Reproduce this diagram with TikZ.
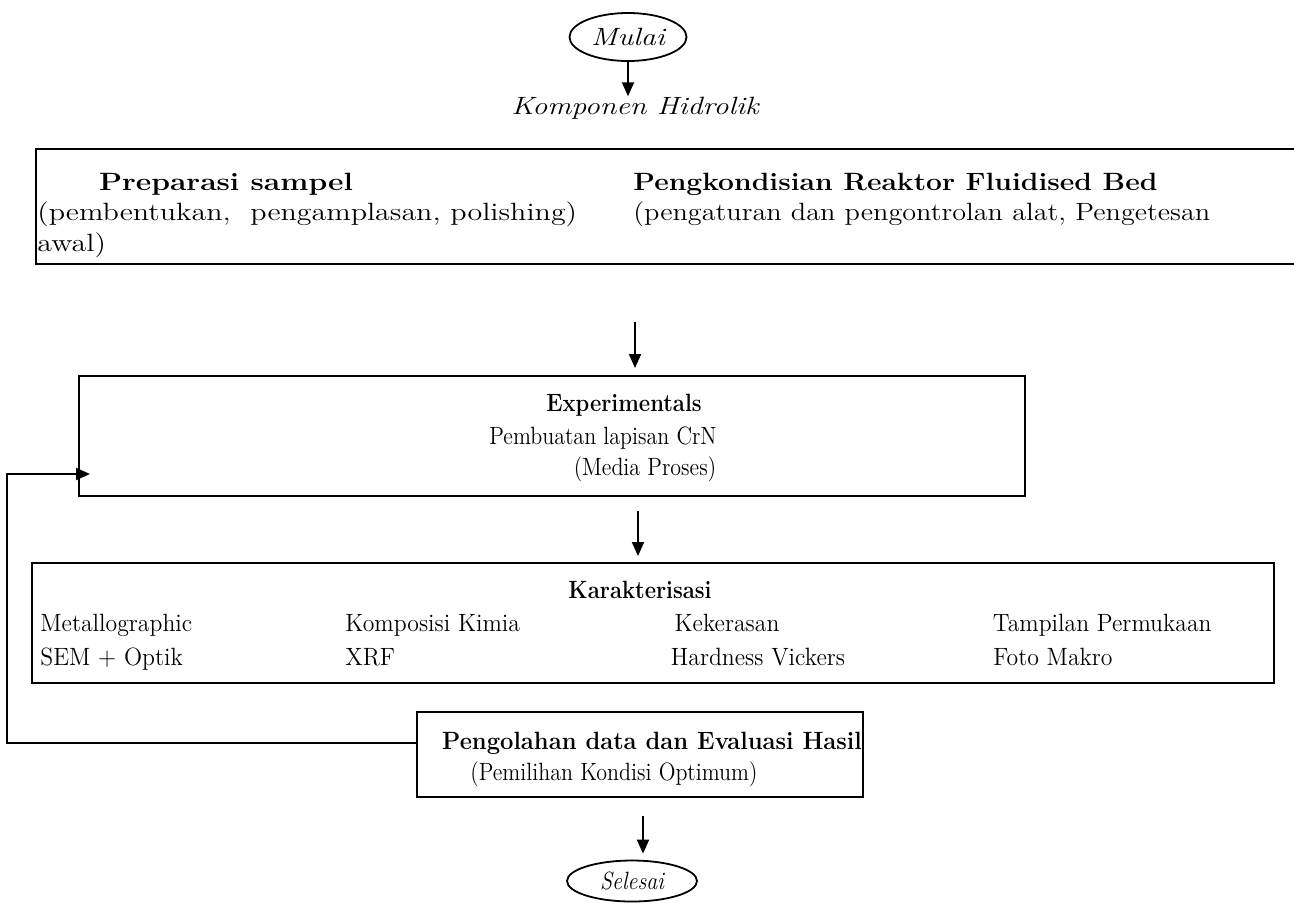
\documentclass[tikz,border=0pt]{standalone}
\usepackage{fontspec}
\setmainfont{Latin Modern Roman}[FakeStretch=1.2]
\newfontfamily\condfont{Latin Modern Roman}[FakeStretch=0.88]
\newfontfamily\rowfont{Latin Modern Roman}[FakeStretch=0.95]
\newfontfamily\semifont{Latin Modern Roman}[FakeStretch=0.95]
\newfontfamily\kondfont{Latin Modern Roman}[FakeStretch=1.13]
\usetikzlibrary{arrows.meta,shapes.geometric}
\begin{document}
\begin{tikzpicture}[x=0.5pt,y=-0.5pt,
  box/.style={draw, line width=1pt, inner sep=0pt},
  term/.style={draw, ellipse, line width=0.9pt, inner sep=0pt, font=\fontsize{12.5}{15}\selectfont\itshape},
  arr/.style={line width=1pt, -{Triangle[width=6pt,length=7pt]}},
  txt/.style={inner sep=0pt, font=\fontsize{12.5}{15}\selectfont},
  btxt/.style={txt, font=\fontsize{12.5}{15}\selectfont\bfseries},
  ctxt/.style={inner sep=0pt, font=\fontsize{12.5}{15}\condfont},
  cbtxt/.style={inner sep=0pt, font=\fontsize{12.5}{15}\condfont\bfseries},
  rtxt/.style={inner sep=0pt, font=\fontsize{12.5}{15}\rowfont}]
\useasboundingbox (0,0) rectangle (1294,907);
\clip (0,0) rectangle (1294,907);

% terminals
\node[term, minimum width=58.5pt, minimum height=24pt] (mulai) at (628,37) {Mulai};
\node[txt, anchor=base, font=\fontsize{12.5}{15}\selectfont\itshape] (komp) at (635,114) {Komponen Hidrolik};
\draw[arr] (mulai.south) -- (mulai.south |- komp.north);

% box 1
\node[box, line width=1.3pt, minimum width=637pt, minimum height=57.5pt] (prep) at (673,206.5) {};
\node[btxt, anchor=base] (prept) at (226,190) {Preparasi sampel};
\node[txt, anchor=base west] (prepd) at (37,220) {(pembentukan,\ \ pengamplasan, polishing)};
\node[txt, anchor=base west] (prepe) at (37,251) {awal)};
\node[btxt, anchor=base west, font=\fontsize{12.5}{15}\kondfont\bfseries] (kondt) at (633,190) {Pengkondisian Reaktor Fluidised Bed};
\node[txt, anchor=base west, font=\fontsize{12.5}{15}\kondfont] (kondd) at (633,220) {(pengaturan dan pengontrolan alat, Pengetesan};

% experimentals
\node[box, minimum width=473pt, minimum height=60pt] (exp) at (552,436) {};
\node[cbtxt, anchor=base] (expt) at (624,411) {Experimentals};
\node[ctxt, anchor=base] (expa) at (603,444) {Pembuatan lapisan CrN};
\node[ctxt, anchor=base] (expb) at (645,475) {(Media Proses)};

\coordinate (a1) at (635,322);
\draw[arr, shorten >=3.5pt] (a1) -- (a1 |- exp.north);

% karakterisasi
\node[box, minimum width=621pt, minimum height=60pt] (kar) at (653,623) {};
\node[cbtxt, anchor=base] (kart) at (640,598) {Karakterisasi};
\node[rtxt, anchor=base west] (k1) at (40,631) {Metallographic};
\node[rtxt, anchor=base west] (k2) at (345,631) {Komposisi Kimia};
\node[rtxt, anchor=base] (k3) at (727,631) {Kekerasan};
\node[rtxt, anchor=base east] (k4) at (1212,631) {Tampilan Permukaan};
\node[rtxt, anchor=base west] (k5) at (40,665) {SEM + Optik};
\node[rtxt, anchor=base west] (k6) at (345,665) {XRF};
\node[rtxt, anchor=base] (k7) at (758,665) {Hardness Vickers};
\node[rtxt, anchor=base] (k8) at (1053,665) {Foto Makro};

\coordinate (a2) at (638,0);
\draw[arr, shorten <=7pt, shorten >=3pt] (exp.south -| a2) -- (a2 |- kar.north);

% pengolahan
\node[box, minimum width=223pt, minimum height=42.5pt] (peng) at (640,754.5) {};
\node[cbtxt, anchor=base, font=\fontsize{12.5}{15}\semifont\bfseries] (pengt) at (652,749) {Pengolahan data dan Evaluasi Hasil};
\node[ctxt, anchor=base] (pengd) at (614,780) {(Pemilihan Kondisi Optimum)};

% feedback
\coordinate (fb) at (7,743);
\coordinate (fbt) at (90,474);
\draw[arr] (peng.west |- fb) -- (fb) |- (fbt);

% selesai
\node[term, minimum width=65pt, minimum height=20.5pt, font=\fontsize{12.5}{15}\condfont\itshape] (selesai) at (632,881) {Selesai};
\coordinate (a3) at (643,0);
\draw[arr, shorten <=9pt, shorten >=3pt] (peng.south -| a3) -- (a3 |- selesai.north);
\end{tikzpicture}
\end{document}
